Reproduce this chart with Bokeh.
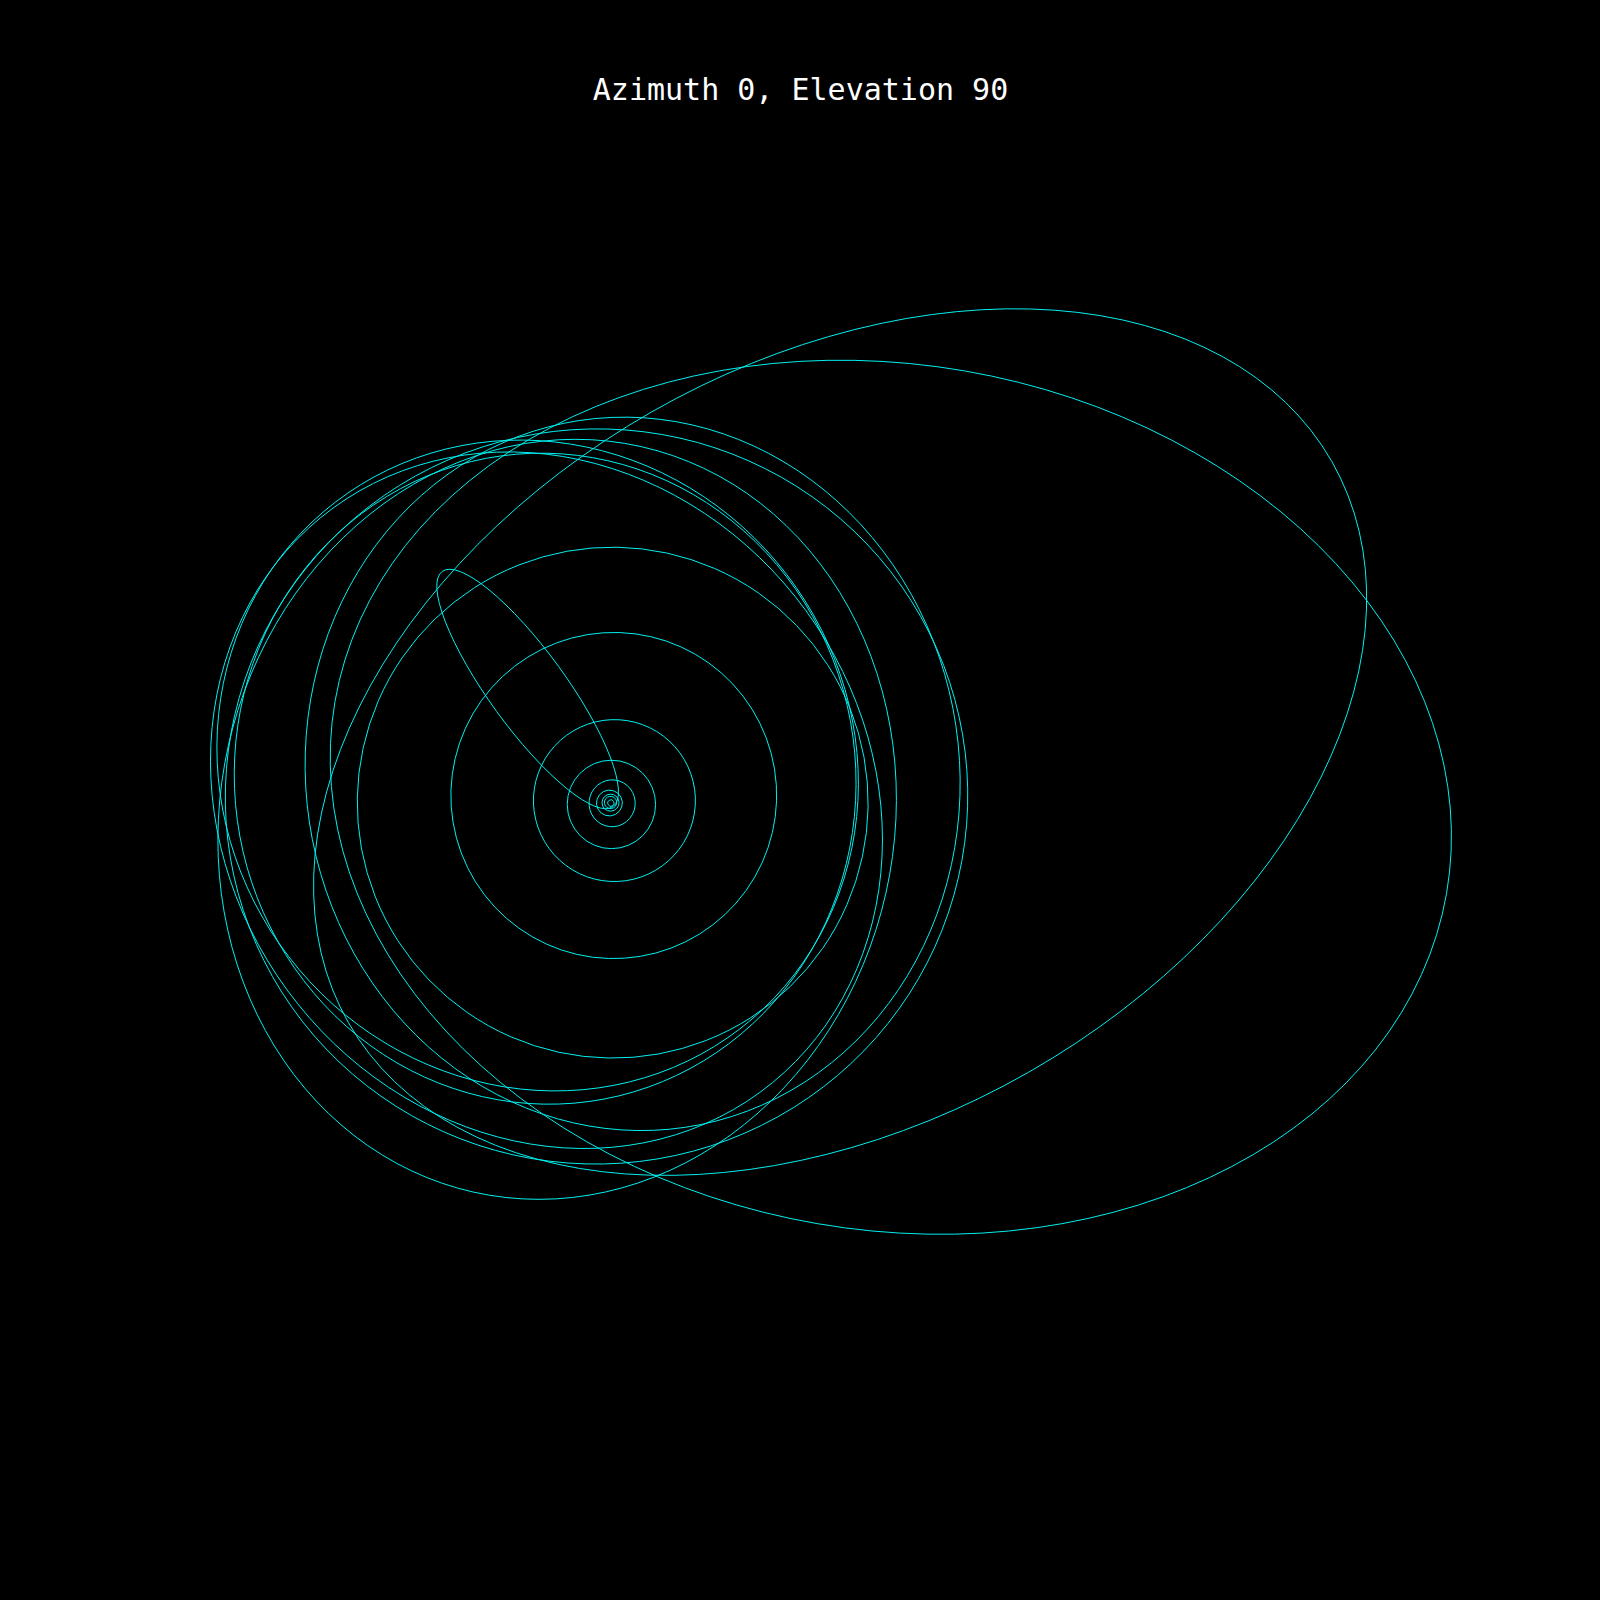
import numpy as np
from bokeh.plotting import figure
from bokeh.models import Range1d, Label, ColumnDataSource
from bokeh.embed import file_html
from bokeh.resources import INLINE

# Orbital elements (heliocentric, ecliptic) of the drawn bodies
bodies = ["Mercury", "Venus", "Earth", "Mars", "Ceres", "Jupiter", "Saturn",
          "Uranus", "Neptune", "Halley", "Haumea", "Makemake", "Eris",
          "Quaoar", "Orcus", "Salacia", "Gonggong", "Pluto"]
semi_major_au = [0.387, 0.723, 1.000, 1.524, 2.767, 5.203, 9.537,
                 19.19, 30.07, 17.83, 43.13, 45.43, 67.86,
                 43.69, 39.17, 42.18, 67.49, 39.48]
eccentricity = [0.2056, 0.0068, 0.0167, 0.0934, 0.0785, 0.0484, 0.0539,
                0.0473, 0.0086, 0.9671, 0.1912, 0.1613, 0.4361,
                0.0411, 0.2217, 0.1063, 0.5032, 0.2488]
inclination_deg = [7.00, 3.39, 0.00, 1.85, 10.59, 1.30, 2.49,
                   0.77, 1.77, 162.26, 28.19, 28.98, 44.04,
                   7.99, 20.57, 23.92, 30.86, 17.14]
node_deg = [48.33, 76.68, -11.26, 49.56, 80.30, 100.46, 113.66,
            74.00, 131.78, 58.42, 122.17, 79.62, 35.95,
            188.93, 268.80, 280.26, 336.84, 110.30]
peri_deg = [77.46, 131.53, 102.94, 336.04, 73.60, 14.73, 92.43,
            170.96, 44.97, 111.33, 239.08, 294.83, 151.64,
            147.48, 72.30, 309.50, 207.67, 224.07]

TITLE = "Azimuth 0, Elevation 90"


def projected_ellipse(a, e, inc, node, peri):
    i, O, w = np.radians([inc, node, peri])
    Px = np.cos(O) * np.cos(w) - np.sin(O) * np.sin(w) * np.cos(i)
    Py = np.sin(O) * np.cos(w) + np.cos(O) * np.sin(w) * np.cos(i)
    Qx = -np.cos(O) * np.sin(w) - np.sin(O) * np.cos(w) * np.cos(i)
    Qy = -np.sin(O) * np.sin(w) + np.cos(O) * np.cos(w) * np.cos(i)
    b = a * np.sqrt(1 - e * e)
    M = np.array([[a * Px, b * Qx], [a * Py, b * Qy]])
    U, S, Vt = np.linalg.svd(M)
    ang = np.arctan2(U[1, 0], U[0, 0])
    return -a * e * Px, -a * e * Py, 2 * S[0], 2 * S[1], ang


cols = {"x": [], "y": [], "w": [], "h": [], "ang": [], "name": []}
for n, a, e, i, O, w in zip(bodies, semi_major_au, eccentricity,
                            inclination_deg, node_deg, peri_deg):
    cx, cy, W, H, A = projected_ellipse(a, e, i, O, w)
    cols["x"].append(cx)
    cols["y"].append(cy)
    cols["w"].append(W)
    cols["h"].append(H)
    cols["ang"].append(A)
    cols["name"].append(n)
src = ColumnDataSource(cols)

PX_PER_AU = 8.5
SUN_X, SUN_Y = 610.0, 802.0  # page pixels (from top-left)
SIZE = 1600

p = figure(width=SIZE, height=SIZE, output_backend="svg", toolbar_location=None,
           x_range=Range1d(-SUN_X / PX_PER_AU, (SIZE - SUN_X) / PX_PER_AU),
           y_range=Range1d(-(SIZE - SUN_Y) / PX_PER_AU, SUN_Y / PX_PER_AU),
           x_axis_location=None, y_axis_location=None,
           min_border=0, background_fill_color="black", border_fill_color="black",
           outline_line_color=None, outline_line_alpha=0)
p.grid.visible = False

p.ellipse(x="x", y="y", width="w", height="h", angle="ang", source=src,
          fill_alpha=0, line_color="#00f0f0", line_width=1)

p.add_layout(Label(x=800, y=SIZE - 89, x_units="screen", y_units="screen",
                   text=TITLE, text_align="center", text_baseline="alphabetic",
                   text_color="white", text_font="DejaVu Sans Mono",
                   text_font_size="30px"))

html = file_html(p, INLINE)
html = html.replace("<body>", '<body style="margin:0;background:black;">', 1)
html = html.replace("</head>",
                    "<style>html,body{margin:0;padding:0;background:#000;"
                    "border:0;outline:0;overflow:hidden}</style></head>", 1)
open("out.html", "w").write(html)
